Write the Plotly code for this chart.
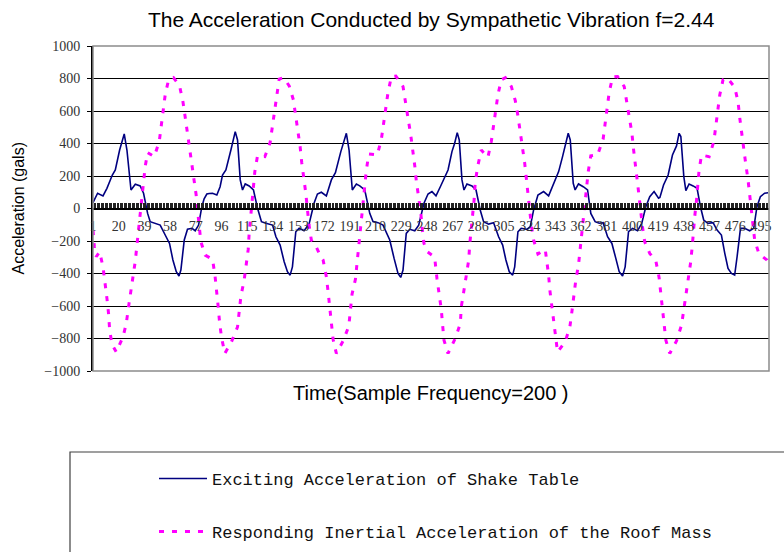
import plotly.graph_objects as go

# ---- data (sample index, acceleration in gals) ----
table_x = [1, 4.4, 8.4, 11.3, 15.3, 17.5, 20.7, 24.1, 26.1, 29.1, 32.3, 35.9, 38.4, 41.4, 43.3, 47, 50.7, 54.4,
           57.6, 60.1, 62.6, 64.6, 66, 68.5, 70.9, 74.2, 76.6, 79.1, 81.5, 83.2, 85.2, 87, 89.4, 92.6, 95, 96.8,
           99.3, 103, 106.2, 107.9, 109.9, 111.6, 113.6, 116.5, 119.7, 122.7, 125.6, 128.9, 133.8, 136.3, 139.4,
           142.4, 144.8, 146.8, 148.5, 151, 153.5, 157.1, 160.8, 164.5, 167, 169.9, 173.6, 177.3, 180.3, 184.3,
           188.4, 190.4, 192.8, 195.8, 198.3, 202, 205.7, 208.1, 211.8, 215.5, 220.5, 223.7, 226.6, 228.6, 230.3,
           232.7, 235.3, 239, 241.9, 245.8, 248.8, 251.7, 254.7, 257.9, 261.6, 263.6, 266.5, 268.5, 270.4, 271.9,
           273.9, 275.4, 277.6, 281.3, 284.3, 287.4, 289.9, 293.6, 297.3, 301, 304, 306.4, 308.9, 311.4, 312.9,
           315.3, 317.7, 321.9, 324.4, 326.9, 330.1, 334.3, 338, 342.1, 345.4, 348.3, 350.8, 352.5, 354, 356.2,
           357.6, 360.1, 363.6, 366.8, 369.2, 372.4, 375.4, 378.3, 381.6, 384.8, 387.7, 390.2, 392.7, 394.6, 397.1,
           400.1, 403.8, 406.9, 409.9, 412.8, 416, 419.3, 420.3, 423, 426.4, 429.6, 432.6, 434.5, 435.8, 438,
           439.5, 441.9, 444.9, 447.8, 450.3, 452.7, 455.9, 459.6, 462.6, 465.8, 468.3, 470.7, 473.2, 475.6, 477.4,
           479.9, 483, 486.7, 489.7, 492.1, 494.6, 497.8, 500.3]
table_y = [36, 94, 77, 124, 206, 237, 360, 459, 360, 114, 149, 139, 94, -30, -81, -91, -102, -163,
           -215, -317, -389, -416, -379, -194, -128, -122, -137, -102, 11, 60, 89, 92, 94, 83, 134, 206,
           237, 360, 473, 422, 176, 114, 151, 139, 114, 1, -81, -91, -102, -174, -225,
           -328, -389, -410, -359, -143, -122, -137, -96, 32, 89, 100, 77, 176, 221, 350,
           463, 360, 114, 151, 139, 114, -30, -81, -87, -102, -194, -307, -400, -424, -379,
           -153, -128, -137, -102, 32, 89, 104, 78, 134, 206, 237, 350, 402, 467, 422,
           176, 114, 151, 139, 114, -9, -81, -96, -87, -174, -225, -317, -389, -410, -359,
           -143, -122, -128, -112, -9, 83, 104, 78, 155, 227, 319, 402, 463, 422, 155,
           114, 151, 134, 114, -30, -81, -91, -87, -174, -215, -307, -389, -416, -359, -143,
           -122, -137, -91, 11, 73, 104, 63, 68, 145, 206, 329, 385, 463, 443, 196,
           110, 151, 139, 124, 11, -71, -91, -87, -133, -163, -276, -369, -400, -410, -297,
           -122, -122, -137, -122, 11, 73, 94, 97]

roof_x = [1, 2, 3.4, 5.9, 8.4, 10.1, 11.3, 12.5, 13.3, 15, 18.2, 23.2, 25.6, 27.3, 29.1, 30.6, 32.3, 33.5,
          34.7, 36, 37.2, 38.4, 39.6, 41.4, 46.3, 50, 51.5, 52.7, 54.4, 56.9, 60.5, 65, 67.5, 69.2, 70.9, 72.4,
          74.2, 75.9, 77.3, 78.3, 80.8, 84, 89.4, 91.2, 92.6, 93.6, 94.6, 96, 98.5, 103.4, 107.9, 109.1, 110.4,
          112.8, 114.5, 115.8, 116.5, 118.5, 119.7, 120.7, 122.7, 128.1, 132, 133.7, 135.5, 136.7, 138.7, 142,
          146.1, 149.2, 151, 152.2, 154.2, 155.4, 157.1, 158.4, 160.8, 162.5, 165.8, 168.5, 171.2, 173.6, 174.9,
          176.1, 177.3, 178.6, 181, 186, 190.2, 191.4, 192.6, 195.1, 196.3, 197.6, 198.3, 199.5, 200.8, 202,
          203.2, 205, 211.3, 214.3, 216, 217.5, 219.2, 221.7, 225, 230.3, 232, 234, 236, 237.7, 239, 240.2,
          241.9, 243.4, 244.4, 245.8, 248.3, 253.7, 255.4, 257.1, 258.6, 259.6, 260.6, 263.6, 268.9, 272.7,
          273.4, 275.2, 277.1, 278.9, 279.6, 280.8, 281.8, 283, 283.7, 285.5, 288.2, 293.1, 295.6, 297.3, 299,
          300.5, 303, 306, 310.4, 313.3, 315.3, 317, 318.8, 320.3, 321.5, 322.7, 323.7, 325.2, 326.9, 330.1,
          335.5, 336.5, 338, 338.9, 340.4, 341.4, 342.9, 344.6, 350.2, 353.7, 355.2, 356.4, 358.1, 360.1, 361.3,
          362.6, 363.6, 365, 366.1, 367.3, 369.2, 374.2, 378.3, 379.8, 381.1, 382.8, 385.3, 389, 393.9, 395.9,
          397.6, 399.6, 400.8, 402, 403.2, 404.9, 407.4, 409.1, 412.8, 417.3, 419.7, 421, 422, 423, 424.7,
          427.6, 432.6, 436.3, 438, 439.5, 441.2, 443, 444.2, 444.9, 446.1, 447.4, 448.6, 449.3, 451.1, 456.7,
          460.2, 461.6, 462.9, 464.6, 467, 470, 475.6, 478.1, 479.3, 481, 482.3, 483.8, 485.5, 486.7, 487.9,
          490.4, 493.6, 499.5, 501]
roof_y = [-133, -235, -297, -266, -359, -461, -553, -646, -745, -835, -883, -790, -708, -605, -513, -420, -322, -225,
          -133, -30, 73, 176, 258, 344, 319, 412, 508, 607, 700, 792, 805, 755, 658, 562, 467, 371,
          274, 180, 83, -9, -205, -287, -313, -410, -507, -605, -698, -790, -892, -821, -729, -636, -539,
          -441, -348, -252, -153, 36, 134, 227, 325, 319, 406, 505, 601, 693, 796, 805,
          755, 669, 570, 479, 381, 282, 186, 94, -102, -194, -231, -280, -317, -420, -513,
          -605, -708, -806, -892, -815, -724, -621, -527, -436, -338, -245, -153, -51, 42, 141,
          237, 336, 330, 427, 525, 621, 714, 812, 815, 751, 652, 556, 453, 360, 262, 165,
          73, -20, -116, -215, -266, -300, -430, -527, -621, -718, -810, -892, -800, -708,
          -605, -513, -420, -317, -225, -133, -30, 63, 159, 258, 360, 315, 412, 505, 603,
          700, 792, 805, 751, 665, 570, 473, 377, 279, 186, 89, -9, -102, -194, -280,
          -252, -307, -410, -502, -605, -698, -790, -883, -821, -729, -636, -539, -441, -348, -256,
          -153, -60, 36, 134, 227, 324, 330, 427, 521, 617, 714, 809, 812, 751, 652,
          556, 463, 365, 268, 176, 77, -112, -205, -276, -322, -424, -523, -615, -712, -810,
          -892, -815, -718, -626, -527, -430, -334, -235, -143, -46, 52, 145, 237, 329, 319,
          412, 505, 603, 700, 792, 805, 747, 658, 562, 465, 371, 274, 176, 83, -14,
          -194, -280, -317, -340]

series_names = ["Exciting Acceleration of Shake Table",
                "Responding Inertial Acceleration of the Roof Mass"]
ytick_vals = [-1000, -800, -600, -400, -200, 0, 200, 400, 600, 800, 1000]
ytick_text = ["\u22121000", "\u2212800", "\u2212600", "\u2212400", "\u2212200", "0",
              "200", "400", "600", "800", "1000"]
x_first, x_last, x_label_step = 1, 501, 19

title_text = "The Acceleration Conducted by Sympathetic Vibration f=2.44"
xtitle_text = "Time(Sample Frequency=200 )"
ytitle_text = "Acceleration (gals)"

# ---- figure ----
W, H = 784, 552
L, R, T, B = 93, 15, 46, 181
plot_w, plot_h = W - L - R, H - T - B

def px_x(p):
    return (p - L) / plot_w

def px_y(p):
    return (H - B - p) / plot_h

fig = go.Figure()
fig.add_trace(go.Scatter(x=table_x, y=table_y, mode="lines", name=series_names[0],
                         legend="legend",
                         line=dict(color="#000080", width=1.6)))
fig.add_trace(go.Scatter(x=roof_x, y=roof_y, mode="lines", name=series_names[1],
                         legend="legend2",
                         line=dict(color="#FF00FF", width=3, dash="5px,8px")))

serif = "Liberation Serif"
sans = "Liberation Sans"
legend_style = dict(xanchor="left", yanchor="middle", bgcolor="rgba(0,0,0,0)", borderwidth=0,
                    font=dict(family="Liberation Mono", size=17, color="#111"), itemwidth=48)

fig.update_layout(
    width=W, height=H,
    margin=dict(l=L, r=R, t=T, b=B, autoexpand=False),
    paper_bgcolor="white", plot_bgcolor="white",
    showlegend=True,
    legend=dict(x=px_x(154), y=px_y(479), **legend_style),
    legend2=dict(x=px_x(154), y=px_y(532), **legend_style),
    xaxis=dict(range=[x_first, x_last], anchor="free", position=0.5,
               tickmode="linear", tick0=x_first, dtick=x_label_step,
               ticks="inside", ticklen=5, tickcolor="#222", tickwidth=1,
               showline=True, linecolor="black", linewidth=2,
               showgrid=False, zeroline=False,
               ticklabelstandoff=5, ticklabeloverflow="allow",
               tickfont=dict(family=serif, size=14, color="#333"),
               minor=dict(tick0=x_first, dtick=1, ticks="inside", ticklen=5,
                          tickcolor="#222", tickwidth=1, showgrid=False)),
    yaxis=dict(range=[-1000, 1000], tickmode="array", tickvals=ytick_vals, ticktext=ytick_text,
               ticks="outside", ticklen=4, tickcolor="black",
               showline=True, linecolor="black", linewidth=2,
               showgrid=True, gridcolor="black", gridwidth=1, zeroline=False,
               ticklabelstandoff=4,
               tickfont=dict(family=serif, size=14, color="#333")),
    shapes=[
        dict(type="rect", xref="paper", yref="paper", x0=0, x1=1, y0=0, y1=1,
             line=dict(color="#8c8c8c", width=1.5), layer="above"),
        dict(type="rect", xref="paper", yref="paper", x0=px_x(70), x1=px_x(800),
             y0=px_y(452), y1=px_y(570), line=dict(color="#404040", width=1.2)),
    ],
    annotations=[
        dict(text=title_text, xref="paper", yref="paper", x=0.5, y=px_y(19),
             xanchor="center", yanchor="middle", showarrow=False,
             font=dict(family=sans, size=21, color="black")),
        dict(text=xtitle_text, xref="paper", yref="paper", x=px_x(431), y=px_y(393),
             xanchor="center", yanchor="middle", showarrow=False,
             font=dict(family=sans, size=20, color="black")),
        dict(text=ytitle_text, xref="paper", yref="paper", x=px_x(18), y=0.5,
             xanchor="center", yanchor="middle", showarrow=False, textangle=-90,
             font=dict(family=sans, size=16, color="black")),
    ],
)

fig.write_html("out.html", config={"displayModeBar": False},
               post_script="document.body.style.margin='0px';")
